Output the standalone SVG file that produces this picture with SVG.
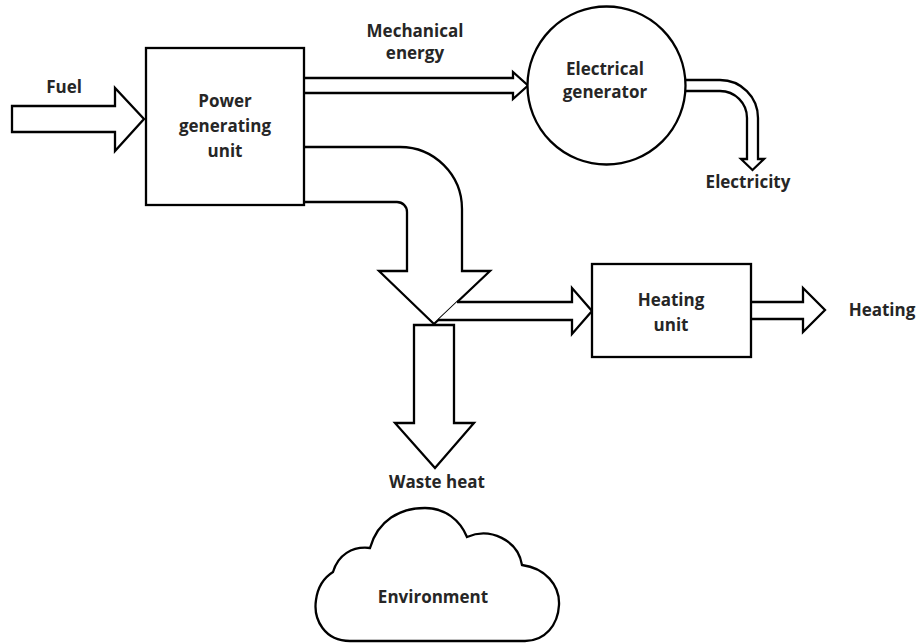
<svg xmlns="http://www.w3.org/2000/svg" width="919" height="644" viewBox="0 0 919 644">
<style>
.s{fill:#fff;stroke:#000;stroke-width:2.3;stroke-linejoin:miter}
.t{font-family:"Open Sans","Liberation Sans",sans-serif;font-weight:bold;font-size:17px;fill:#262626;text-anchor:middle}
</style>
<rect width="919" height="644" fill="#fff"/>
<g id="connectors">
<path id="fuel-arrow" class="s" d="M12 106 L115 106 L115 88 L144 119 L115 151 L115 132 L12 132 Z"/>
<path id="mech-arrow" class="s" d="M304 78 L513 78 L513 72 L528 85.5 L513 99 L513 93 L304 93"/>
<path id="elec-arrow" class="s" d="M684 80 L720 80 A38 38 0 0 1 758 118 L758 159 L764 159 L752.5 170 L741 159 L747 159 L747 118 A27 27 0 0 0 720 91 L684 91"/>
<path id="waste-down" class="s" d="M414 325 L454 325 L454 423 L474 423 L435 468 L395 423 L414 423 Z"/>
<path id="heat-flow" class="s" d="M304 147 L400 147 A62 62 0 0 1 462 209 L462 271 L490 271 L434 324 L379 271 L407 271 L407 212 A10 10 0 0 0 397 202 L304 202"/>
<path id="heat-to-unit" class="s" d="M457 302 L572 302 L572 288 L592 311 L572 334 L572 320 L438 320"/>
<path id="heating-out" class="s" d="M751 302 L803 302 L803 288 L825 310 L803 332 L803 319 L751 319"/>
<text class="t" x="64" y="93">Fuel</text>
<text class="t" x="415" y="37">Mechanical</text>
<text class="t" x="415" y="59">energy</text>
<text class="t" x="748" y="188">Electricity</text>
<text class="t" x="882" y="316">Heating</text>
<text class="t" x="437" y="488">Waste heat</text>
</g>
<g id="power-unit">
<rect class="s" x="146" y="48" width="158" height="157"/>
<text class="t" x="225" y="107">Power</text>
<text class="t" x="225" y="132">generating</text>
<text class="t" x="225" y="157">unit</text>
</g>
<g id="electrical-generator">
<circle class="s" cx="606.5" cy="85.5" r="79"/>
<text class="t" x="605" y="75">Electrical</text>
<text class="t" x="605" y="98">generator</text>
</g>
<g id="heating-unit">
<rect class="s" x="592" y="264" width="159" height="93"/>
<text class="t" x="671" y="306">Heating</text>
<text class="t" x="671" y="331">unit</text>
</g>
<g id="environment">
<path class="s" d="M350 641 C325 641 313 620 316 600 C318 585 325 577 333 572 C338 555 352 546 370 548 C378 520 400 508 425 508 C445 508 460 520 467 537 C490 527 518 540 522 565 C545 568 560 585 559 605 C558 625 545 641 525 641 Z"/>
<text class="t" x="433" y="603">Environment</text>
</g>
</svg>
